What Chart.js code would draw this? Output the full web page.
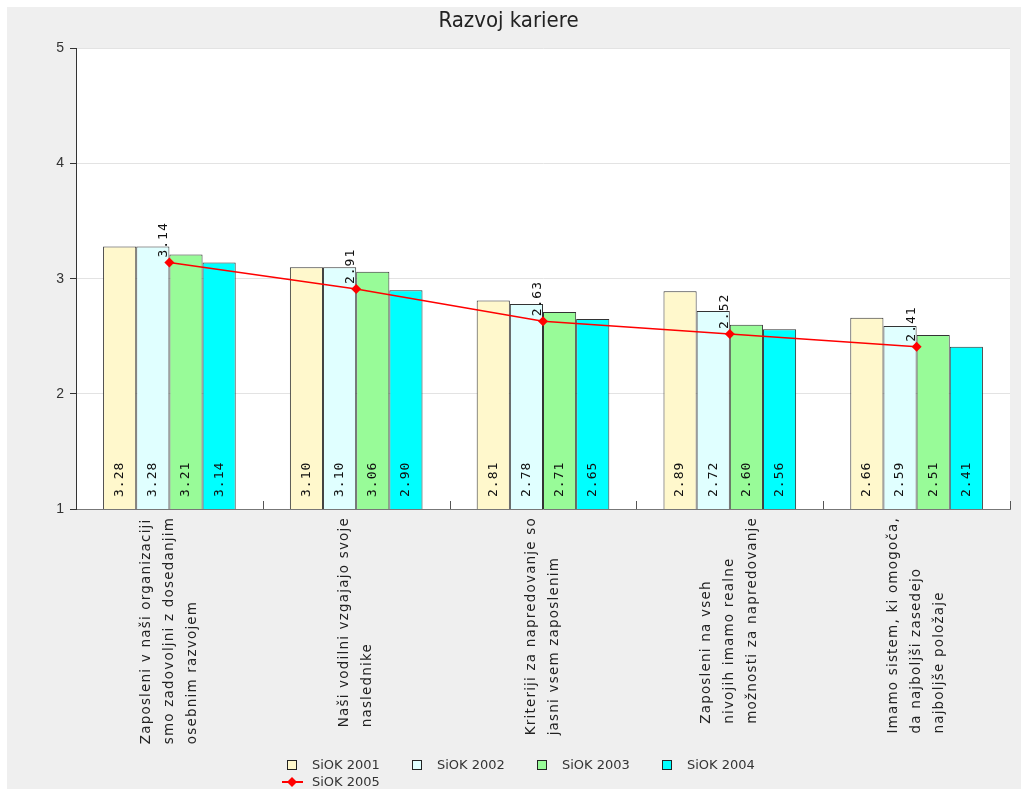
<!DOCTYPE html>
<html>
<head>
<meta charset="utf-8">
<title>Razvoj kariere</title>
<script src="https://cdn.jsdelivr.net/npm/chart.js@4.4.1/dist/chart.umd.min.js"></script>
<style>
  html, body { margin: 0; padding: 0; background: #fff; }
  #wrap { position: absolute; left: 7px; top: 7px; width: 1014px; height: 782px; background: #efefef; }
</style>
</head>
<body>
<div id="wrap"><canvas id="chart"></canvas></div>
<script>
// questions, one array of lines per category
const categories = [
  ['Zaposleni v naši organizaciji', 'smo zadovoljni z dosedanjim', 'osebnim razvojem'],
  ['Naši vodilni vzgajajo svoje', 'naslednike'],
  ['Kriteriji za napredovanje so', 'jasni vsem zaposlenim'],
  ['Zaposleni na vseh', 'nivojih imamo realne', 'možnosti za napredovanje'],
  ['Imamo sistem, ki omogoča,', 'da najboljši zasedejo', 'najboljše položaje']
];
const seriesNames = ['SiOK 2001', 'SiOK 2002', 'SiOK 2003', 'SiOK 2004', 'SiOK 2005'];
const siok2001 = [3.28, 3.10, 2.81, 2.89, 2.66];
const siok2002 = [3.28, 3.10, 2.78, 2.72, 2.59];
const siok2003 = [3.21, 3.06, 2.71, 2.60, 2.51];
const siok2004 = [3.14, 2.90, 2.65, 2.56, 2.41];
const siok2005 = [3.14, 2.91, 2.63, 2.52, 2.41];
const yMin = 1, yMax = 5, yStep = 1;

const barFills = ['#fff8cc', '#e0ffff', '#98fb98', '#00ffff'];
const lineColor = '#ff0000';

function barSet(i, data) {
  return {
    type: 'bar',
    label: seriesNames[i],
    data: data,
    backgroundColor: barFills[i],
    borderColor: '#333',
    borderWidth: 1,
    categoryPercentage: 0.71,
    barPercentage: 1.0,
    order: 1
  };
}

// white plot background
const plotBg = {
  id: 'plotBg',
  beforeDraw(chart) {
    const a = chart.chartArea, ctx = chart.ctx;
    ctx.save();
    ctx.fillStyle = '#ffffff';
    ctx.fillRect(a.left, a.top, a.right - a.left, a.bottom - a.top);
    ctx.restore();
  }
};

// vertical value labels: inside bars at the base, above the line points
const valueLabels = {
  id: 'valueLabels',
  afterDatasetsDraw(chart) {
    const ctx = chart.ctx;
    const base = chart.scales.y.bottom;
    ctx.save();
    ctx.font = '13px "DejaVu Sans Mono"';
    ctx.letterSpacing = '1px';
    ctx.fillStyle = '#111';
    chart.data.datasets.forEach((ds, di) => {
      const meta = chart.getDatasetMeta(di);
      meta.data.forEach((el, i) => {
        const txt = ds.data[i].toFixed(2);
        ctx.save();
        if (ds.type === 'bar') {
          ctx.translate(el.x, base - 12);
          ctx.rotate(-Math.PI / 2);
          ctx.textAlign = 'left';
          ctx.textBaseline = 'middle';
        } else {
          ctx.translate(el.x - 2, el.y - 5);
          ctx.rotate(-Math.PI / 2);
          ctx.textAlign = 'left';
          ctx.textBaseline = 'alphabetic';
        }
        ctx.fillText(txt, 0, 0);
        ctx.restore();
      });
    });
    ctx.restore();
  }
};

// rotated category labels, lines centred on the category and left-aligned
const categoryLabels = {
  id: 'categoryLabels',
  afterDraw(chart) {
    const ctx = chart.ctx, x = chart.scales.x;
    const lh = 23;
    ctx.save();
    ctx.font = '13.5px "DejaVu Sans"';
    ctx.letterSpacing = '1.2px';
    ctx.fillStyle = '#222';
    categories.forEach((lines, i) => {
      const cx = x.getPixelForValue(i);
      const maxW = Math.max(...lines.map(l => ctx.measureText(l).width));
      const y0 = x.top + 8 + maxW;
      lines.forEach((line, j) => {
        ctx.save();
        ctx.translate(cx + (j - (lines.length - 1) / 2) * lh, y0);
        ctx.rotate(-Math.PI / 2);
        ctx.textAlign = 'left';
        ctx.textBaseline = 'middle';
        ctx.fillText(line, 0, 0);
        ctx.restore();
      });
    });
    ctx.restore();
  }
};

// short inward ticks between categories
const boundaryTicks = {
  id: 'boundaryTicks',
  afterDraw(chart) {
    const ctx = chart.ctx, x = chart.scales.x;
    ctx.save();
    ctx.strokeStyle = '#555';
    ctx.lineWidth = 1;
    for (let i = 1; i <= categories.length; i++) {
      const px = Math.round((x.getPixelForValue(i - 1) + x.getPixelForValue(i)) / 2) + 0.5;
      ctx.beginPath();
      ctx.moveTo(px, x.top);
      ctx.lineTo(px, x.top - 8);
      ctx.stroke();
    }
    ctx.restore();
  }
};

// legend: four bar swatches on the first row, the line series below
const legendBox = {
  id: 'legendBox',
  afterDraw(chart) {
    const ctx = chart.ctx;
    const left = 280, colW = 125, row1 = 758, row2 = 775;
    ctx.save();
    ctx.font = '13px "DejaVu Sans"';
    ctx.textBaseline = 'middle';
    ctx.textAlign = 'left';
    chart.data.datasets.forEach((ds, di) => {
      if (ds.type === 'bar') {
        const k = di - 1;
        const bx = left + k * colW;
        ctx.fillStyle = ds.backgroundColor;
        ctx.fillRect(bx, row1 - 5, 10, 10);
        ctx.strokeStyle = '#222';
        ctx.lineWidth = 1;
        ctx.strokeRect(bx + 0.5, row1 - 4.5, 9, 9);
        ctx.fillStyle = '#333';
        ctx.fillText(ds.label, bx + 25, row1 + 1);
      } else {
        const cx = left + 5;
        ctx.strokeStyle = ds.borderColor;
        ctx.lineWidth = 2;
        ctx.beginPath();
        ctx.moveTo(cx - 10, row2);
        ctx.lineTo(cx + 11, row2);
        ctx.stroke();
        ctx.fillStyle = ds.borderColor;
        ctx.beginPath();
        ctx.moveTo(cx, row2 - 5);
        ctx.lineTo(cx + 5, row2);
        ctx.lineTo(cx, row2 + 5);
        ctx.lineTo(cx - 5, row2);
        ctx.closePath();
        ctx.fill();
        ctx.fillStyle = '#333';
        ctx.fillText(ds.label, left + 25, row2 + 1);
      }
    });
    ctx.restore();
  }
};

new Chart(document.getElementById('chart'), {
  data: {
    labels: categories,
    datasets: [
      {
        type: 'line',
        label: seriesNames[4],
        data: siok2005,
        borderColor: lineColor,
        backgroundColor: lineColor,
        borderWidth: 1.5,
        tension: 0,
        pointStyle: 'rectRot',
        pointRadius: 5,
        pointBorderWidth: 0,
        order: 0
      },
      barSet(0, siok2001),
      barSet(1, siok2002),
      barSet(2, siok2003),
      barSet(3, siok2004)
    ]
  },
  options: {
    responsive: true,
    maintainAspectRatio: false,
    animation: false,
    layout: { padding: { left: 0, right: 11, top: 0, bottom: 0 } },
    plugins: {
      legend: { display: false },
      tooltip: { enabled: false },
      title: {
        display: true,
        text: 'Razvoj kariere',
        color: '#222',
        font: { family: '"DejaVu Sans Condensed", "DejaVu Sans"', size: 22, weight: 'normal' },
        padding: { top: 1, bottom: 14 }
      }
    },
    scales: {
      x: {
        type: 'category',
        offset: true,
        ticks: { display: false },
        grid: { display: false },
        border: { color: '#777', width: 1 },
        afterFit(scale) { scale.height = 280; }
      },
      y: {
        min: yMin,
        max: yMax,
        ticks: {
          stepSize: yStep,
          color: '#333',
          padding: 6,
          font: { family: '"Liberation Sans", Arial', size: 14 }
        },
        grid: { color: '#e3e3e3', tickColor: '#333', tickLength: 6 },
        border: { color: '#333', width: 1 },
        afterFit(scale) { scale.width = 69; }
      }
    }
  },
  plugins: [plotBg, valueLabels, categoryLabels, boundaryTicks, legendBox]
});
</script>
</body>
</html>
